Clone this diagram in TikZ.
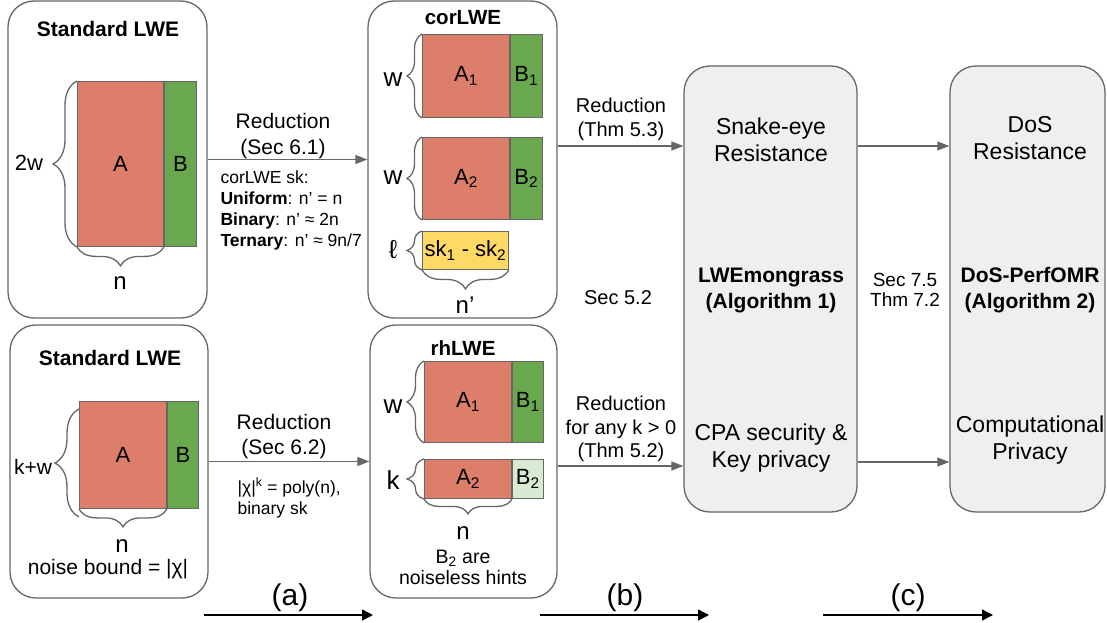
\documentclass[tikz,border=0pt]{standalone}
\usepackage{fontspec}
\setmainfont{Liberation Sans}
\usepackage{tikz}
\usetikzlibrary{arrows.meta,positioning,calc,decorations.pathreplacing}
\definecolor{redA}{HTML}{DD7E6B}
\definecolor{greenB}{HTML}{6AA84F}
\definecolor{paleB}{HTML}{D9EAD3}
\definecolor{skyellow}{HTML}{FFD966}
\definecolor{boxgray}{HTML}{EFEFEF}
\definecolor{edge}{HTML}{666666}
\newcommand{\fsz}[2]{\fontsize{#1}{#2}\selectfont}

\begin{document}
\begin{tikzpicture}[x=1pt,y=-1pt,>={Triangle[length=12pt,width=9pt]},
  panel/.style={draw=edge,line width=1.3pt,rounded corners=26pt,inner sep=0pt},
  algbox/.style={panel,fill=boxgray,minimum width=#1,minimum height=446pt},
  mat/.style={draw=edge,line width=0.9pt,inner sep=0pt,anchor=north west,font=\fsz{22}{26}},
  curly/.style={decorate,decoration={brace,amplitude=#1},draw=edge,line width=1.3pt},
  flow/.style={->,draw=edge,line width=1.3pt},
  title/.style={font=\bfseries\fsz{21}{25}},
  dim/.style={font=\fsz{24}{28}},
  note/.style={font=\fsz{20}{25},align=center},
  small/.style={font=\fsz{17.5}{21},align=left},
  big/.style={font=\fsz{23}{27},align=center},
  alg/.style={font=\bfseries\fsz{21}{26},align=center}]
\useasboundingbox (0,0) rectangle (1107,623);

% standard LWE (top)
\node[panel,minimum width=199pt,minimum height=317pt] (std1) at (107.5,159.5) {};
\node[title] (std1t) at (108,29) {Standard LWE};
\node[mat,fill=redA,minimum width=86pt,minimum height=165pt] (A) at (77,81) {A};
\node[mat,fill=greenB,minimum width=32pt,minimum height=165pt] (B) at (A.north east) {B};
\draw[curly=24pt] (A.south west) -- (A.north west);
\draw[curly=19pt] (A.south east) -- (A.south west);
\node[font=\fsz{22}{26}] (twow) at (29,163) {2w};
\node[dim] (n1) at (120,283) {n};

% corLWE
\node[panel,minimum width=189pt,minimum height=317pt] (cor) at (462.5,159.5) {};
\node[title,font=\bfseries\fsz{20.5}{24}] (cort) at (463,18) {corLWE};
\node[mat,fill=redA,minimum width=87pt,minimum height=83pt] (A1) at (422,34) {A\textsubscript{1}};
\node[mat,fill=greenB,minimum width=32pt,minimum height=83pt] (B1) at (A1.north east) {B\textsubscript{1}};
\node[mat,fill=redA,minimum width=87pt,minimum height=82pt] (A2) at (422,137) {A\textsubscript{2}};
\node[mat,fill=greenB,minimum width=32pt,minimum height=82pt] (B2) at (A2.north east) {B\textsubscript{2}};
\node[mat,fill=skyellow,minimum width=86pt,minimum height=38pt] (sk) at (422,231) {sk\textsubscript{1} - sk\textsubscript{2}};
\draw[curly=15pt] (A1.south west) -- (A1.north west);
\draw[curly=15pt] (A2.south west) -- (A2.north west);
\draw[curly=15pt] (sk.south west) -- (sk.north west);
\draw[curly=19pt] (sk.south east) -- (sk.south west);
\node[font=\fsz{26}{30}] (w1) at (393,80) {w};
\node[font=\fsz{26}{30}] (w2) at (393,178) {w};
\node[font=\fsz{26}{30}] (ell) at (393,250) {ℓ};
\node[dim] (nprime) at (465,305) {n’};

% standard LWE (bottom)
\node[panel,minimum width=198pt,minimum height=273pt] (std2) at (109,461.5) {};
\node[title] (std2t) at (110,358) {Standard LWE};
\node[mat,fill=redA,minimum width=87pt,minimum height=107pt] (Ab) at (79,401) {A};
\node[mat,fill=greenB,minimum width=31pt,minimum height=107pt] (Bb) at (Ab.north east) {B};
\draw[curly=24pt] ($(Ab.south west)+(0,8)$) -- ($(Ab.north west)+(0,8)$);
\draw[curly=18pt] (Ab.south east) -- (Ab.south west);
\node[font=\fsz{21}{25}] (kw) at (33,467) {k+w};
\node[dim] (n2) at (122,546) {n};
\node[font=\fsz{21}{25}] (noise) at (108,569) {noise bound = |χ|};

% rhLWE
\node[panel,minimum width=187pt,minimum height=273pt] (rh) at (463.5,461.5) {};
\node[title,font=\bfseries\fsz{20.5}{24}] (rht) at (463,348) {rhLWE};
\node[mat,fill=redA,minimum width=87pt,minimum height=81pt] (rA1) at (424,361) {A\textsubscript{1}};
\node[mat,fill=greenB,minimum width=31pt,minimum height=81pt] (rB1) at (rA1.north east) {B\textsubscript{1}};
\node[mat,fill=redA,minimum width=87pt,minimum height=39pt] (rA2) at (424,459) {A\textsubscript{2}};
\node[mat,fill=paleB,minimum width=31pt,minimum height=39pt] (rB2) at (rA2.north east) {B\textsubscript{2}};
\draw[curly=17pt] (rA1.south west) -- (rA1.north west);
\draw[curly=17pt] (rA2.south west) -- (rA2.north west);
\draw[curly=15pt] (rA2.south east) -- (rA2.south west);
\node[font=\fsz{26}{30}] (w3) at (393,407) {w};
\node[font=\fsz{26}{30}] (k1) at (393,480) {k};
\node[dim] (n3) at (463,533) {n};
\node[font=\fsz{19.5}{21},align=center] (hints) at (463,567) {B\textsubscript{2} are\\noiseless hints};

% LWEmongrass and DoS-PerfOMR
\node[algbox=173pt] (mid) at (770.5,289) {};
\node[big] (snake) at (771,140) {Snake-eye\\Resistance};
\node[alg] (lwem) at (771,290) {LWEmongrass\\(Algorithm 1)};
\node[big] (cpa) at (771,448) {CPA security \&\\Key privacy};
\node[algbox=155pt] (dos) at (1027.5,289) {};
\node[big] (dosr) at (1030,138) {DoS\\Resistance};
\node[alg] (perf) at (1030,290) {DoS-PerfOMR\\(Algorithm 2)};
\node[big] (comp) at (1030,440) {Computational\\Privacy};

% reductions
\coordinate (t1) at (620,146);
\coordinate (t2) at (620,466);
\coordinate (t3) at (900,462);
\draw[flow] (std1.east) -- (cor.west);
\draw[flow] (std2.east) -- (rh.west);
\draw[flow] (cor.east |- t1) -- (mid.west |- t1);
\draw[flow] (rh.east |- t2) -- (mid.west |- t2);
\draw[flow] (mid.east |- t1) -- (dos.west |- t1);
\draw[flow] (mid.east |- t3) -- (dos.west |- t3);
\node[note,font=\fsz{21}{26}] (red1) at (283,136.5) {Reduction\\(Sec 6.1)};
\node[small,anchor=west] (skinfo) at (217,210.5) {corLWE sk:\\\textbf{Uniform}: n’ = n\\\textbf{Binary}: n’ ≈ 2n\\\textbf{Ternary}: n’ ≈ 9n/7};
\node[note,font=\fsz{21}{25}] (red2) at (284,437) {Reduction\\(Sec 6.2)};
\node[small,anchor=west] (chi) at (234,498) {|χ|\textsuperscript{k} = poly(n),\\binary sk};
\node[note,font=\fsz{20}{24}] (red3) at (621,119) {Reduction\\(Thm 5.3)};
\node[note,font=\fsz{20}{23.5}] (red4) at (621,429) {Reduction\\for any k > 0\\(Thm 5.2)};
\node[note] (sec52) at (618,298) {Sec 5.2};
\node[note,font=\fsz{19}{20}] (sec75) at (905,290) {Sec 7.5\\Thm 7.2};

% stages
\node[font=\fsz{30}{34}] (la) at (290,598) {(a)};
\node[font=\fsz{30}{34}] (lb) at (625,598) {(b)};
\node[font=\fsz{30}{34}] (lc) at (908,598) {(c)};
\coordinate (a0) at (204,615);
\coordinate (a1) at (373,615);
\coordinate (b0) at (540,615);
\coordinate (b1) at (709,615);
\coordinate (c0) at (823,615);
\coordinate (c1) at (993,615);
\foreach \s/\e in {a0/a1,b0/b1,c0/c1}
  \draw[->,line width=1.5pt,>={Triangle[length=11pt,width=11pt]}] (\s) -- (\e);
\end{tikzpicture}
\end{document}
